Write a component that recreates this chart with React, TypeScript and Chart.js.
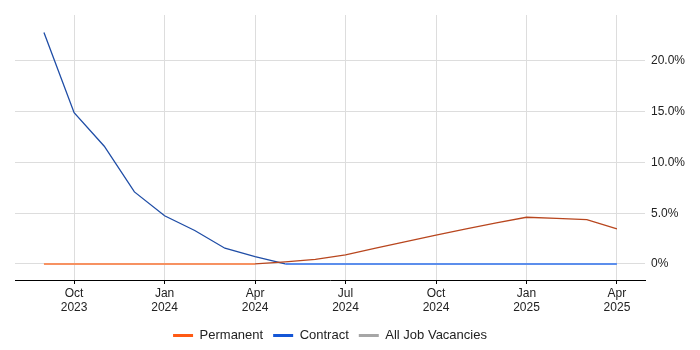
import React, { useEffect, useRef } from "react";
import { Chart, registerables } from "chart.js";

Chart.register(...registerables);

const months = [
  "Sep 2023", "Oct 2023", "Nov 2023", "Dec 2023", "Jan 2024", "Feb 2024", "Mar 2024", "Apr 2024",
  "May 2024", "Jun 2024", "Jul 2024", "Aug 2024", "Sep 2024", "Oct 2024", "Nov 2024", "Dec 2024",
  "Jan 2025", "Feb 2025", "Mar 2025", "Apr 2025",
];
const permanent = [0, 0, 0, 0, 0, 0, 0, 0, 0.2, 0.45, 0.9, 1.55, 2.2, 2.85, 3.45, 4.05, 4.6, 4.5, 4.37, 3.45];
const contract = [22.8, 14.9, 11.6, 7.1, 4.75, 3.3, 1.55, 0.72, 0, 0, 0, 0, 0, 0, 0, 0, 0, 0, 0, 0];
const allJobs: (number | null)[] = months.map(() => null);
const tickMonths = ["Oct 2023", "Jan 2024", "Apr 2024", "Jul 2024", "Oct 2024", "Jan 2025", "Apr 2025"];
const yTicks = [0, 5, 10, 15, 20];

const FONT = "'Liberation Sans', Arial, sans-serif";

const legendShift = {
  id: "legendShift",
  afterLayout(chart: any) {
    const l = chart.legend;
    const a = chart.chartArea;
    if (!l || !a) return;
    const w = l.right - l.left;
    const cx = (a.left + a.right) / 2;
    l.left = cx - w / 2;
    l.right = cx + w / 2;
    l.top += 2;
    l.bottom += 2;
  },
};

export default function App() {
  const ref = useRef<HTMLCanvasElement | null>(null);
  useEffect(() => {
    document.body.style.margin = "0";
    const toPts = (arr: (number | null)[]) => arr.map((v, i) => ({ x: i, y: v }));
    const seg = (light: string, dark: string) => ({
      borderColor: (ctx: any) => (ctx.p0.parsed.y === 0 && ctx.p1.parsed.y === 0 ? light : dark),
      borderWidth: (ctx: any) => (ctx.p0.parsed.y === 0 && ctx.p1.parsed.y === 0 ? 2 : 1.3),
    });
    const legendColors = ["#ff5a14", "#1456d6", "#a6a6a6"];
    const chart = new Chart(ref.current!, {
      type: "line",
      plugins: [legendShift],
      data: {
        datasets: [
          {
            label: "Permanent",
            data: toPts(permanent),
            borderColor: "#b8461e",
            borderWidth: 1.3,
            pointRadius: 0,
            segment: seg("rgba(247,140,90,0.95)", "#b8461e"),
          },
          {
            label: "Contract",
            data: toPts(contract),
            borderColor: "#1f4da6",
            borderWidth: 1.3,
            pointRadius: 0,
            segment: seg("#5c8eec", "#1f4da6"),
          },
          {
            label: "All Job Vacancies",
            data: toPts(allJobs),
            borderColor: "#a6a6a6",
            borderWidth: 1.3,
            pointRadius: 0,
          },
        ],
      },
      options: {
        animation: false,
        responsive: false,
        maintainAspectRatio: false,
        layout: { padding: { left: 15, top: 15, right: 0, bottom: 0 } },
        plugins: {
          tooltip: { enabled: false },
          legend: {
            position: "bottom",
            labels: {
              boxWidth: 20,
              boxHeight: 3,
              padding: 10,
              color: "#222",
              font: { family: FONT, size: 13 },
              generateLabels: (c: any) =>
                c.data.datasets.map((d: any, i: number) => ({
                  text: d.label,
                  fillStyle: legendColors[i],
                  strokeStyle: legendColors[i],
                  lineWidth: 0,
                  hidden: false,
                  datasetIndex: i,
                  fontColor: "#222",
                })),
            },
          },
        },
        scales: {
          x: {
            type: "linear",
            min: -0.96,
            max: 19.93,
            afterBuildTicks: (s: any) => {
              s.ticks = tickMonths.map((m) => ({ value: months.indexOf(m) }));
            },
            afterFit: (s: any) => {
              s.height = 37;
            },
            ticks: {
              autoSkip: false,
              maxRotation: 0,
              padding: 2,
              color: "#222",
              font: { family: FONT, size: 12 },
              callback: (v: any) => {
                const m = months[Math.round(Number(v))];
                return m ? m.split(" ") : "";
              },
            },
            grid: { color: "#dddddd", tickColor: "#000", tickLength: 4, drawTicks: true },
            border: { color: "#000", width: 1 },
          },
          y: {
            position: "right",
            min: -1.58,
            max: 24.53,
            afterBuildTicks: (s: any) => {
              s.ticks = yTicks.map((v) => ({ value: v }));
            },
            afterFit: (s: any) => {
              s.width = 55;
            },
            ticks: {
              padding: 6,
              color: "#222",
              font: { family: FONT, size: 12 },
              callback: (v: any) => (Number(v) === 0 ? "0%" : Number(v).toFixed(1) + "%"),
            },
            grid: { color: "#dddddd", drawTicks: false },
            border: { display: false },
          },
        },
      },
    } as any);
    return () => chart.destroy();
  }, []);
  return (
    <div style={{ position: "absolute", left: 0, top: 0, width: 700, height: 350 }}>
      <canvas ref={ref} width={700} height={350} style={{ width: 700, height: 350 }} />
    </div>
  );
}
